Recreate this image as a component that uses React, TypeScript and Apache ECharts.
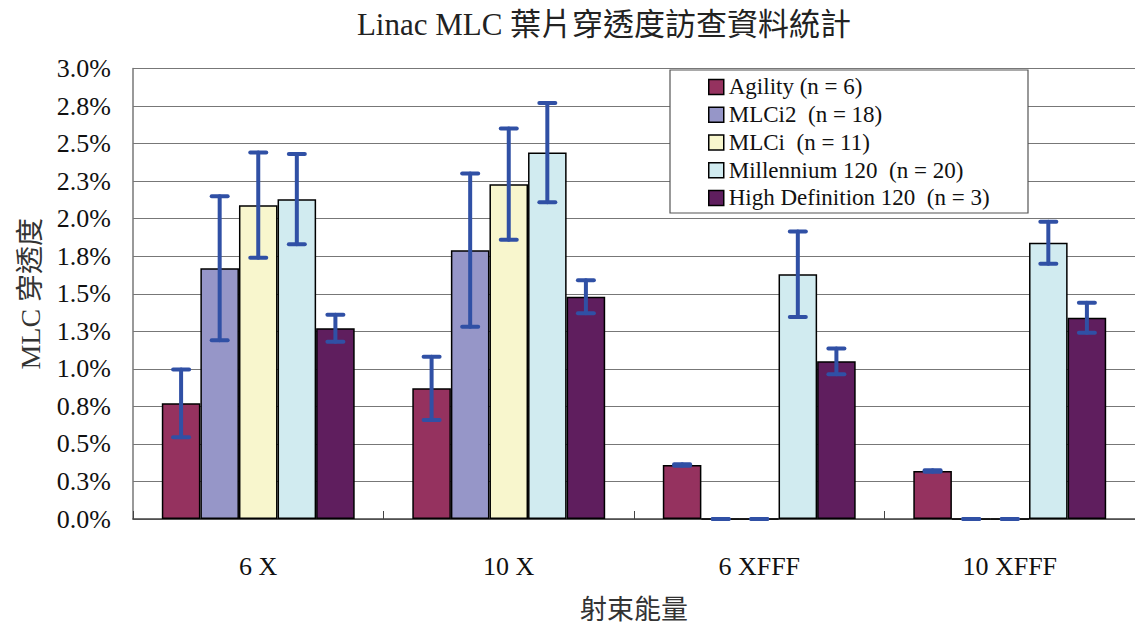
import React, { useEffect, useRef } from "react";
import * as echarts from "echarts";

const categories = ["6 X", "10 X", "6 XFFF", "10 XFFF"];
const seriesNames = [
  "Agility (n = 6)",
  "MLCi2  (n = 18)",
  "MLCi  (n = 11)",
  "Millennium 120  (n = 20)",
  "High Definition 120  (n = 3)",
];
const agility = [0.77, 0.87, 0.36, 0.32];
const agilityErr = [0.225, 0.21, 0.005, 0.005];
const mlci2 = [1.67, 1.79, 0, 0];
const mlci2Err = [0.48, 0.51, 0, 0];
const mlci = [2.09, 2.23, 0, 0];
const mlciErr = [0.35, 0.37, 0, 0];
const millennium = [2.13, 2.44, 1.63, 1.84];
const millenniumErr = [0.3, 0.33, 0.285, 0.14];
const hd120 = [1.27, 1.48, 1.05, 1.34];
const hd120Err = [0.09, 0.11, 0.086, 0.1];

const values = [agility, mlci2, mlci, millennium, hd120];
const errors = [agilityErr, mlci2Err, mlciErr, millenniumErr, hd120Err];
const colors = ["#95325F", "#9696C8", "#F8F6CD", "#D1EBF0", "#5F1E5E"];

const SERIF = '"Liberation Serif", "Times New Roman", "Noto Sans CJK TC", serif';
const CATGAP = 0.23;
const NBARS = 5;

export default function App() {
  const ref = useRef<HTMLDivElement>(null);
  useEffect(() => {
    document.body.style.margin = "0";
    const chart = echarts.init(ref.current!, null, { renderer: "svg" });
    const barSeries = values.map((v, i) => ({
      name: seriesNames[i],
      type: "bar",
      data: v,
      barGap: "0%",
      barCategoryGap: "23%",
      itemStyle: { color: colors[i], borderColor: "#000", borderWidth: 1.5 },
      z: 2,
    }));
    const errSeries = values.map((v, k) => ({
      name: "err" + k,
      type: "custom",
      z: 5,
      data: v.map((val, ci) => [ci, val - errors[k][ci], val + errors[k][ci]]),
      encode: { x: 0, y: [1, 2] },
      renderItem: (params: any, api: any) => {
        const ci = api.value(0);
        const lo = api.value(1);
        const hi = api.value(2);
        const band = api.size([1, 0])[0];
        const used = band * (1 - CATGAP);
        const bw = used / NBARS;
        const cx = api.coord([ci, 0])[0] - used / 2 + bw * (k + 0.5);
        const yLo = api.coord([ci, lo])[1];
        const yHi = api.coord([ci, hi])[1];
        const half = 8;
        const st = { stroke: "#3050A5", lineWidth: 4, lineCap: "round" };
        return {
          type: "group",
          children: [
            { type: "line", shape: { x1: cx, y1: yLo, x2: cx, y2: yHi }, style: st },
            { type: "line", shape: { x1: cx - half, y1: yHi, x2: cx + half, y2: yHi }, style: st },
            { type: "line", shape: { x1: cx - half, y1: yLo, x2: cx + half, y2: yLo }, style: st },
          ],
        };
      },
    }));
    chart.setOption({
      animation: false,
      textStyle: { fontFamily: SERIF },
      title: {
        text: "Linac MLC 葉片穿透度訪查資料統計",
        left: 599,
        textAlign: "center",
        top: 4,
        textStyle: { fontFamily: SERIF, fontSize: 31, fontWeight: "normal", color: "#222" },
      },
      graphic: [
        {
          type: "rect",
          z: 3,
          shape: { x: 670, y: 70, width: 358, height: 143 },
          style: { fill: "#fff", stroke: "#555", lineWidth: 1.2 },
        },
      ],
      legend: {
        orient: "vertical",
        left: 708,
        top: 73,
        z: 10,
        data: seriesNames,
        padding: 0,
        itemGap: 0,
        itemWidth: 15,
        itemHeight: 15,
        icon: "rect",
        itemStyle: { borderColor: "#000", borderWidth: 1.5 },
        textStyle: { fontFamily: SERIF, fontSize: 23, lineHeight: 27.75, color: "#111" },
      },
      grid: { left: 133, right: 0, top: 68.5, bottom: 105.3, containLabel: false },
      xAxis: {
        type: "category",
        data: categories,
        name: "射束能量",
        nameLocation: "middle",
        nameGap: 77,
        nameTextStyle: { fontFamily: SERIF, fontSize: 27, color: "#333" },
        axisLine: { lineStyle: { color: "#444", width: 1.5 } },
        axisTick: { show: true, inside: true, length: 8, lineStyle: { color: "#444" } },
        axisLabel: { fontFamily: SERIF, fontSize: 26, color: "#111", margin: 34 },
      },
      yAxis: {
        type: "value",
        min: 0,
        max: 3,
        interval: 0.25,
        name: "MLC 穿透度",
        nameLocation: "middle",
        nameGap: 89,
        nameTextStyle: { fontFamily: SERIF, fontSize: 28, color: "#333" },
        axisLine: { show: true, lineStyle: { color: "#777", width: 1.5 } },
        axisTick: { show: false },
        axisLabel: {
          fontFamily: SERIF,
          fontSize: 26,
          color: "#111",
          margin: 22,
          formatter: (v: number) => (Math.round(v * 10 + 1e-9) / 10).toFixed(1) + "%",
        },
        splitLine: { lineStyle: { color: "#777", width: 1.2 } },
      },
      series: [...barSeries, ...errSeries],
    });
    return () => chart.dispose();
  }, []);
  return <div ref={ref} style={{ width: 1135, height: 628 }} />;
}
